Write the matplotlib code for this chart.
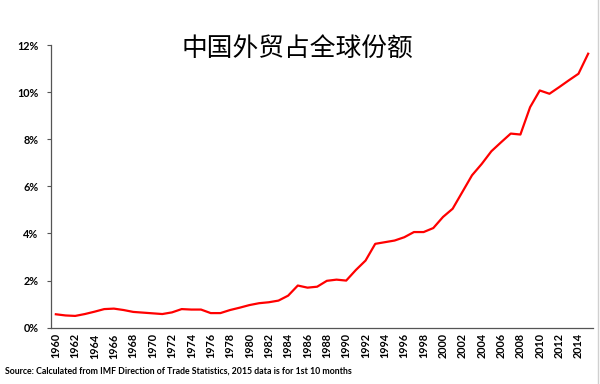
import matplotlib
matplotlib.use("Agg")
import matplotlib.pyplot as plt
from matplotlib.ticker import FuncFormatter
from matplotlib.lines import Line2D

years = list(range(1960, 2016))
share = [0.57, 0.52, 0.50, 0.58, 0.68, 0.79, 0.81, 0.75, 0.67, 0.64,
         0.61, 0.58, 0.65, 0.79, 0.77, 0.77, 0.62, 0.62, 0.75, 0.85,
         0.96, 1.04, 1.08, 1.15, 1.36, 1.79, 1.70, 1.74, 1.99, 2.04,
         2.00, 2.45, 2.85, 3.56, 3.63, 3.70, 3.84, 4.06, 4.06, 4.23,
         4.70, 5.05, 5.76, 6.47, 6.95, 7.49, 7.87, 8.24, 8.20, 9.36,
         10.07, 9.93, 10.21, 10.50, 10.78, 11.63]
title = "中国外贸占全球份额"
source = "Source: Calculated from IMF Direction of Trade Statistics, 2015 data is for 1st 10 months"
yticks = [0, 2, 4, 6, 8, 10, 12]

plt.rcParams['font.family'] = ['Lato', 'DejaVu Sans']

fig = plt.figure(figsize=(6.0, 3.84), dpi=100)
ax = fig.add_axes([51/600, 56.3/384, 542/600, (327.7-45)/384])

x = list(range(len(years)))
ax.plot(x, share, color='#ff0000', lw=1.6, solid_joinstyle='round')
ax.set_xlim(-0.5, len(years) - 0.5)
ax.set_ylim(0, 12)
ax.set_yticks(yticks)
ax.yaxis.set_major_formatter(FuncFormatter(lambda v, p: f"{int(v)}%"))
ax.set_xticks(x[::2])
ax.set_xticklabels([str(y) for y in years[::2]], rotation=90)
for lab in ax.get_xticklabels() + ax.get_yticklabels():
    lab.set_fontweight('bold')
    lab.set_fontsize(7.8)
ax.tick_params(axis='x', length=0, pad=4)
ax.tick_params(axis='y', length=3, width=0.8, color='#555555', pad=6)
for s in ['top', 'right']:
    ax.spines[s].set_visible(False)
for s in ['left', 'bottom']:
    ax.spines[s].set_color('#555555')
    ax.spines[s].set_linewidth(0.9)

fig.text(297/600, 1 - 50/384, title, ha='center', va='center', fontsize=18.5,
         family=['Noto Sans CJK SC', 'DejaVu Sans'], fontweight='light')
fig.text(5/600, 1 - 371/384, source, ha='left', va='center', fontsize=6.3,
         fontweight='bold')
fig.add_artist(Line2D([597.5/600, 597.5/600], [0, 1], color='#d0d0d0', lw=1.0,
                      transform=fig.transFigure))

fig.savefig("out.png", dpi=100)
